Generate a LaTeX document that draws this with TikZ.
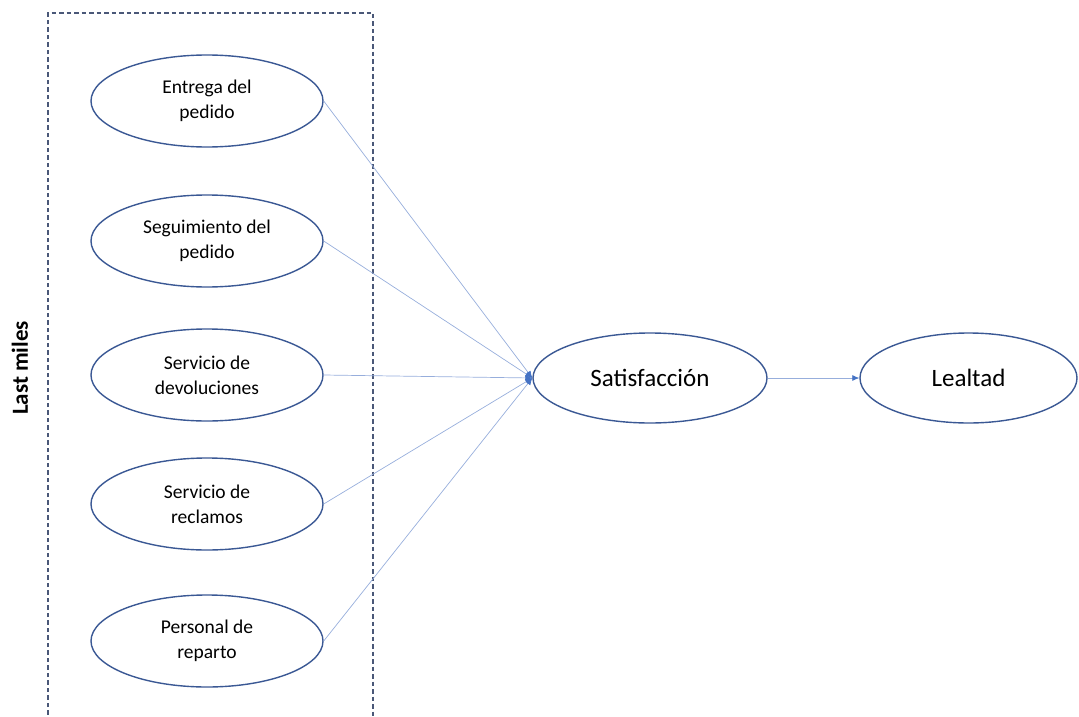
\documentclass[tikz,border=0pt]{standalone}
\usepackage{fontspec}
\setmainfont{Carlito}
\usetikzlibrary{shapes.geometric,arrows.meta}
\definecolor{rim}{HTML}{3A5894}
\definecolor{link}{HTML}{97AEDC}
\definecolor{tip}{HTML}{4472C4}
\definecolor{frame}{HTML}{4A5878}
\begin{document}
\begin{tikzpicture}[x=1pt,y=-1pt,
  factor/.style={ellipse,draw=rim,line width=1.4pt,minimum width=232pt,minimum height=92pt,inner sep=0pt,
    align=center,font=\fontsize{19.5}{25}\selectfont},
  outcome/.style={ellipse,draw=rim,line width=1.4pt,minimum height=90pt,inner sep=0pt,
    font=\fontsize{25}{29}\selectfont},
  link/.style={draw=link,line width=0.7pt,-{Latex[length=7pt,width=6pt,fill=tip,color=tip]}},
  group/.style={draw=frame,line width=1.1pt,dash pattern=on 4.5pt off 3pt}]
\useasboundingbox (0,0) rectangle (1079,717);
% dashed group frame, open at the bottom edge
\draw[group] (48,722) -- (48,13) -- (373,13) -- (373,722);
\node[rotate=90,font=\fontsize{23}{27}\selectfont\bfseries] (grp) at (20,368) {Last miles};
% last-mile factors
\node[factor] (f1) at (207,101) {Entrega del\\pedido};
\node[factor] (f2) at (207,241) {Seguimiento del\\pedido};
\node[factor] (f3) at (207,375) {Servicio de\\devoluciones};
\node[factor] (f4) at (207,504) {Servicio de\\reclamos};
\node[factor] (f5) at (207,641) {Personal de\\reparto};
% outcomes
\node[outcome,minimum width=234pt] (sat) at (650,378) {Satisfacción};
\node[outcome,minimum width=217pt] (leal) at (968.5,378) {Lealtad};
% paths
\foreach \f in {f1,f2,f3,f4,f5}
  \draw[link] (\f.east) -- (sat.west);
\draw[link] (sat.east) -- (leal.west);
\end{tikzpicture}
\end{document}
